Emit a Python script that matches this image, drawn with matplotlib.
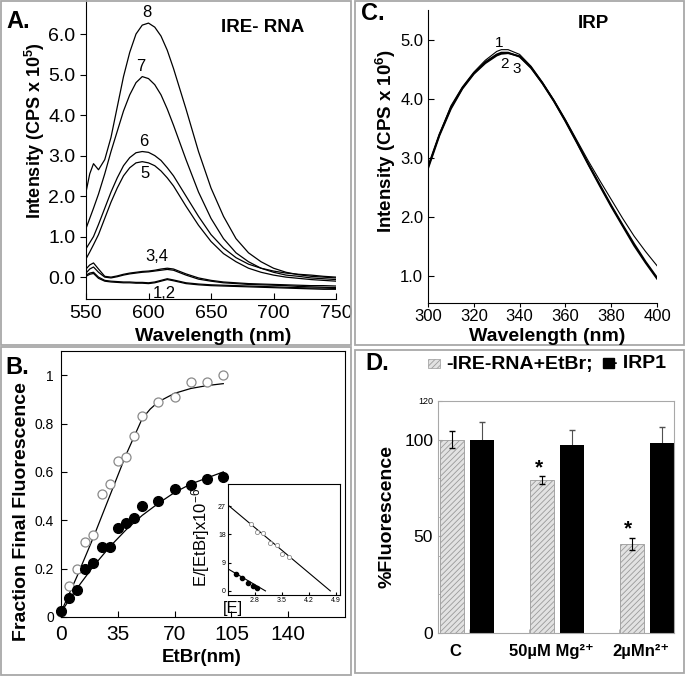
import matplotlib
matplotlib.use('Agg')
import matplotlib.pyplot as plt
from matplotlib.patches import Rectangle

plt.rcParams['font.family'] = ['Liberation Sans', 'DejaVu Sans']
plt.rcParams['mathtext.fontset'] = 'custom'
plt.rcParams['mathtext.rm'] = 'Liberation Sans'
plt.rcParams['mathtext.bf'] = 'Liberation Sans:bold'
plt.rcParams['mathtext.it'] = 'Liberation Sans:italic'
plt.rcParams['hatch.linewidth'] = 0.6

# ---- panel A : IRE-RNA emission spectra (CPS x 1e5)
wl_a = [550, 553, 556, 560, 565, 570, 575, 580, 585, 590, 595, 600, 605, 610, 615,
        620, 630, 640, 650, 660, 670, 680, 690, 700, 710, 720, 730, 740, 750]
a8 = [2.1, 2.55, 2.8, 2.65, 2.9, 3.45, 4.2, 4.95, 5.55, 6.0, 6.22, 6.27, 6.17, 5.95, 5.6,
      5.15, 4.15, 3.1, 2.2, 1.5, 0.95, 0.6, 0.38, 0.22, 0.12, 0.06, 0.02, 0.0, -0.02]
a7 = [1.2, 1.45, 1.7, 2.05, 2.55, 3.1, 3.6, 4.1, 4.5, 4.8, 4.95, 4.9, 4.75, 4.5, 4.15,
      3.75, 2.9, 2.1, 1.45, 0.95, 0.6, 0.38, 0.22, 0.12, 0.05, 0.02, -0.02, -0.04, -0.06]
a6 = [0.7, 0.85, 1.0, 1.3, 1.7, 2.1, 2.45, 2.75, 2.95, 3.07, 3.1, 3.08, 3.0, 2.88, 2.7,
      2.5, 2.0, 1.5, 1.05, 0.72, 0.48, 0.32, 0.22, 0.15, 0.1, 0.07, 0.05, 0.02, 0.0]
a5 = [0.45, 0.62, 0.8, 1.05, 1.45, 1.85, 2.2, 2.5, 2.7, 2.82, 2.85, 2.82, 2.75, 2.62, 2.45,
      2.25, 1.75, 1.28, 0.88, 0.58, 0.38, 0.22, 0.12, 0.05, 0.0, -0.03, -0.06, -0.08, -0.1]
a4 = [0.2, 0.3, 0.35, 0.2, 0.02, 0.0, 0.03, 0.07, 0.1, 0.12, 0.14, 0.15, 0.17, 0.2, 0.22,
      0.2, 0.08, -0.02, -0.08, -0.12, -0.14, -0.16, -0.17, -0.18, -0.19, -0.2, -0.21, -0.21, -0.22]
a3 = [0.1, 0.2, 0.25, 0.12, 0.0, -0.02, 0.01, 0.05, 0.08, 0.1, 0.12, 0.13, 0.15, 0.17, 0.19,
      0.17, 0.05, -0.05, -0.1, -0.14, -0.16, -0.18, -0.19, -0.2, -0.21, -0.23, -0.24, -0.25, -0.26]
a2 = [0.05, 0.1, 0.12, 0.0, -0.08, -0.1, -0.11, -0.12, -0.12, -0.13, -0.13, -0.14, -0.12, -0.08, -0.04,
      -0.07, -0.14, -0.17, -0.19, -0.2, -0.21, -0.22, -0.23, -0.24, -0.25, -0.26, -0.27, -0.27, -0.28]
a1 = [0.02, 0.07, 0.09, -0.03, -0.1, -0.12, -0.13, -0.14, -0.14, -0.15, -0.15, -0.16, -0.14, -0.1, -0.06,
      -0.09, -0.16, -0.19, -0.21, -0.22, -0.23, -0.24, -0.25, -0.26, -0.27, -0.28, -0.29, -0.3, -0.3]

# ---- panel B : titration with EtBr
etbr = [0, 5, 10, 15, 20, 25, 30, 35, 40, 45, 50, 60, 70, 80, 90, 100]
frac_open = [0.02, 0.13, 0.20, 0.31, 0.34, 0.51, 0.55, 0.645, 0.66, 0.75, 0.83, 0.89, 0.91, 0.97, 0.97, 1.0]
frac_fill = [0.025, 0.08, 0.11, 0.20, 0.225, 0.29, 0.29, 0.37, 0.39, 0.41, 0.46, 0.48, 0.53, 0.545, 0.57, 0.58]
fit_x = [0, 10, 20, 30, 40, 50, 55, 60, 70, 80, 90, 100]
fit_open = [0.02, 0.17, 0.33, 0.50, 0.67, 0.82, 0.86, 0.89, 0.925, 0.945, 0.957, 0.965]
fit_fill = [0.02, 0.12, 0.21, 0.29, 0.36, 0.42, 0.445, 0.47, 0.515, 0.55, 0.575, 0.60]

# inset (Scatchard-type)
ins_x_open = [2.69, 2.86, 3.01, 3.19, 3.36, 3.50, 3.68]
ins_y_open = [21.2, 18.8, 18.5, 15.3, 14.6, 11.7, 10.7]
ins_x_fill = [2.31, 2.47, 2.63, 2.76, 2.86]
ins_y_fill = [5.3, 4.2, 2.4, 1.6, 0.85]
ins_line_open_x = [2.1, 4.75]
ins_line_open_y = [27.3, 0.0]
ins_line_fill_x = [2.1, 3.07]
ins_line_fill_y = [7.0, 0.0]

# ---- panel C : IRP emission (CPS x 1e6)
wl_c = [300, 305, 310, 315, 320, 325, 330, 332, 335, 340, 345, 350, 355, 360, 365,
        370, 375, 380, 385, 390, 395, 400]
c1 = [2.85, 3.4, 3.88, 4.2, 4.45, 4.65, 4.8, 4.83, 4.83, 4.75, 4.55, 4.28, 3.98, 3.65, 3.3,
      2.95, 2.62, 2.3, 1.98, 1.68, 1.42, 1.18]
c2 = [2.85, 3.4, 3.85, 4.18, 4.43, 4.62, 4.75, 4.78, 4.78, 4.71, 4.52, 4.26, 3.96, 3.63, 3.27,
      2.9, 2.55, 2.2, 1.87, 1.55, 1.25, 0.98]
c3 = [2.82, 3.38, 3.83, 4.17, 4.42, 4.6, 4.73, 4.76, 4.77, 4.72, 4.53, 4.26, 3.96, 3.62, 3.26,
      2.89, 2.53, 2.18, 1.85, 1.52, 1.23, 0.96]

# ---- panel D : bars
conds = ['C', '50µM Mg²⁺', '2µMn²⁺']
rna_val = [100, 79, 46]
rna_err = [4.5, 2.0, 3.3]
irp_val = [100, 97.5, 98.5]
irp_err = [9, 7.5, 8.3]

W, H = 685, 676
fig = plt.figure(figsize=(6.85, 6.76), dpi=100)


def fx(px):
    return px / W


def fy(py):
    return 1 - py / H


def box(l, t, r, b):
    return [l / W, 1 - b / H, (r - l) / W, (b - t) / H]


# panel frames
for l, t, r, b in [(1, 1, 351, 345), (1, 347, 351, 675), (355, 1, 684, 345), (355, 350, 684, 673)]:
    fig.patches.append(Rectangle((fx(l), fy(b)), (r - l) / W, (b - t) / H, transform=fig.transFigure,
                                 fill=False, edgecolor='#a8a8a8', lw=1.3))

# ================= A
axA = fig.add_axes(box(86, 0, 336, 299))
for y in [a1, a2, a3, a4, a5, a6, a7, a8]:
    axA.plot(wl_a, y, color='black', lw=0.9)
axA.set_xlim(550, 750)
axA.set_ylim(-0.54, 6.84)
axA.spines['top'].set_visible(False)
axA.spines['right'].set_visible(False)
axA.set_xticks([550, 600, 650, 700, 750])
axA.set_yticks([0, 1, 2, 3, 4, 5, 6])
axA.set_yticklabels(['0.0', '1.0', '2.0', '3.0', '4.0', '5.0', '6.0'])
axA.tick_params(axis='x', direction='in', labelsize=14, length=4, pad=4)
axA.tick_params(axis='y', direction='out', labelsize=14, length=4)
for s, (lx, ly) in zip(['8', '7', '6', '5', '3,4', '1,2'],
                       [(599, 6.52), (594, 5.2), (596, 3.35), (597, 2.55), (606.5, 0.5), (613, -0.4)]):
    axA.text(lx, ly, s, ha='center', va='center', fontsize=12)
fig.text(fx(18), fy(22), 'A.', fontsize=17, fontweight='bold', ha='center', va='center')
fig.text(fx(263), fy(27), 'IRE- RNA', fontsize=13.5, fontweight='bold', ha='center', va='center')
fig.text(fx(213), fy(337), 'Wavelength (nm)', fontsize=14, fontweight='bold', ha='center', va='center')
fig.text(fx(35), fy(131), r'Intensity (CPS x 10$^{\mathbf{5}}$)', fontsize=13, fontweight='bold',
         ha='center', va='center', rotation=90)

# ================= C
axC = fig.add_axes(box(428, 10, 657, 303))
axC.plot(wl_c, c1, color='black', lw=0.8)
axC.plot(wl_c, c2, color='black', lw=1.3)
axC.plot(wl_c, c3, color='black', lw=1.3)
axC.set_xlim(300, 400)
axC.set_ylim(0.55, 5.5)
axC.spines['top'].set_visible(False)
axC.spines['right'].set_visible(False)
axC.set_xticks([300, 320, 340, 360, 380, 400])
axC.set_yticks([1, 2, 3, 4, 5])
axC.set_yticklabels(['1.0', '2.0', '3.0', '4.0', '5.0'])
axC.tick_params(axis='x', direction='out', labelsize=12, length=3, pad=1)
axC.tick_params(axis='y', direction='in', labelsize=12, length=4)
for s, (lx, ly) in zip(['1', '2', '3'], [(331.1, 4.94), (333.3, 4.58), (338.7, 4.50)]):
    axC.text(lx, ly, s, ha='center', va='center', fontsize=11)
fig.text(fx(373), fy(14), 'C.', fontsize=17, fontweight='bold', ha='center', va='center')
fig.text(fx(593), fy(23), 'IRP', fontsize=13.5, fontweight='bold', ha='center', va='center')
fig.text(fx(547), fy(337), 'Wavelength (nm)', fontsize=14, fontweight='bold', ha='center', va='center')
fig.text(fx(386), fy(141), r'Intensity (CPS x 10$^{\mathbf{6}}$)', fontsize=13.5, fontweight='bold',
         ha='center', va='center', rotation=90)

# ================= B
axB = fig.add_axes(box(61, 351, 345, 617))
axB.plot(fit_x, fit_open, color='black', lw=0.9)
axB.plot(fit_x, fit_fill, color='black', lw=0.9)
axB.plot(etbr, frac_open, 'o', ms=6.5, mfc='white', mec='#8a8a8a', mew=0.9, clip_on=False)
axB.plot(etbr, frac_fill, 'o', ms=7, mfc='black', mec='black', clip_on=False)
axB.set_xlim(0, 175)
axB.set_ylim(0, 1.1)
axB.set_xticks([0, 35, 70, 105, 140])
axB.set_yticks([0, 0.2, 0.4, 0.6, 0.8, 1.0])
axB.set_yticklabels(['0', '0.2', '0.4', '0.6', '0.8', '1'])
axB.tick_params(axis='x', direction='in', labelsize=15, length=4, pad=6)
axB.tick_params(axis='y', direction='in', labelsize=10, length=4, pad=5)
fig.text(fx(17), fy(368), 'B.', fontsize=17, fontweight='bold', ha='center', va='center')
fig.text(fx(202), fy(658), 'EtBr(nm)', fontsize=13.5, fontweight='bold', ha='center', va='center')
fig.text(fx(22), fy(512), 'Fraction Final Fluorescence', fontsize=14, fontweight='bold',
         ha='center', va='center', rotation=90)

axI = fig.add_axes(box(228, 484, 340, 595))
axI.plot(ins_line_open_x, ins_line_open_y, color='black', lw=0.8)
axI.plot(ins_line_fill_x, ins_line_fill_y, color='black', lw=0.8)
axI.plot(ins_x_open, ins_y_open, 'o', ms=3, mfc='white', mec='#8a8a8a', mew=0.6)
axI.plot(ins_x_fill, ins_y_fill, 'o', ms=3, mfc='black', mec='black')
axI.set_xlim(2.1, 5.0)
axI.set_ylim(-1.3, 34)
axI.set_xticks([2.8, 3.5, 4.2, 4.9])
axI.set_yticks([0, 9, 18, 27])
axI.tick_params(labelsize=5, length=2, direction='in', pad=1.5)
fig.text(fx(201), fy(537), r'E/[EtBr]x10$^{-6}$', fontsize=12, ha='center', va='center', rotation=90)
fig.text(fx(233), fy(608), '[E]', fontsize=12, ha='center', va='center')

# ================= D
axD = fig.add_axes(box(438, 401, 674, 633))
xs = range(len(conds))
off, bw = 0.167, 0.267
gx = [i - off for i in xs]
kx = [i + off for i in xs]
axD.errorbar(kx, irp_val, yerr=irp_err, fmt='none', ecolor='#505050', elinewidth=0.8,
             capsize=2.5, zorder=1)
axD.bar(kx, irp_val, width=bw, color='black', zorder=2)
axD.bar(gx, rna_val, width=bw, color='#e2e2e2', edgecolor='#9a9a9a', hatch='//////', lw=0.6, zorder=2)
axD.errorbar(gx, rna_val, yerr=rna_err, fmt='none', ecolor='black', elinewidth=0.8,
             capsize=2.5, zorder=3)
for i, v, e in zip(xs, rna_val, rna_err):
    if i > 0:
        axD.text(i - off - 0.04, v + e + 4.5, '*', ha='center', va='center', fontsize=15, fontweight='bold')
axD.set_xlim(-0.328, 2.301)
axD.set_ylim(0, 120)
for sp in axD.spines.values():
    sp.set_color('#a8a8a8')
axD.set_yticks([0, 50, 100, 120])
axD.set_yticklabels(['0', '50', '100', '120'])
axD.set_yticks([20, 40, 60, 80], minor=True)
axD.tick_params(axis='y', which='both', direction='in', length=3, color='#a8a8a8', labelsize=12.5)
axD.yaxis.get_major_ticks()[-1].label1.set_fontsize(6.5)
axD.set_xticks([-0.14, 0.93, 1.93])
axD.set_xticklabels(conds, fontweight='bold', fontsize=12)
axD.set_xticks([0.02, 0.69, 1.69], minor=True)
axD.tick_params(axis='x', which='major', length=0, pad=8)
axD.tick_params(axis='x', which='minor', direction='in', length=3, color='#a8a8a8')
fig.text(fx(377), fy(363), 'D.', fontsize=17, fontweight='bold', ha='center', va='center')
fig.patches.append(Rectangle((fx(428), fy(368)), 12 / W, 9 / H, transform=fig.transFigure,
                             facecolor='#e2e2e2', edgecolor='#9a9a9a', hatch='//////', lw=0.5))
fig.text(fx(446), fy(364), '-IRE-RNA+EtBr;', fontsize=14, fontweight='bold', ha='left', va='center')
fig.patches.append(Rectangle((fx(603), fy(368)), 11 / W, 10 / H, transform=fig.transFigure,
                             facecolor='black', edgecolor='black'))
fig.text(fx(611), fy(364), '- IRP1', fontsize=14, fontweight='bold', ha='left', va='center')
fig.text(fx(387), fy(517), '%Fluorescence', fontsize=14, fontweight='bold', ha='center', va='center',
         rotation=90)

fig.savefig('out.png', dpi=100)
